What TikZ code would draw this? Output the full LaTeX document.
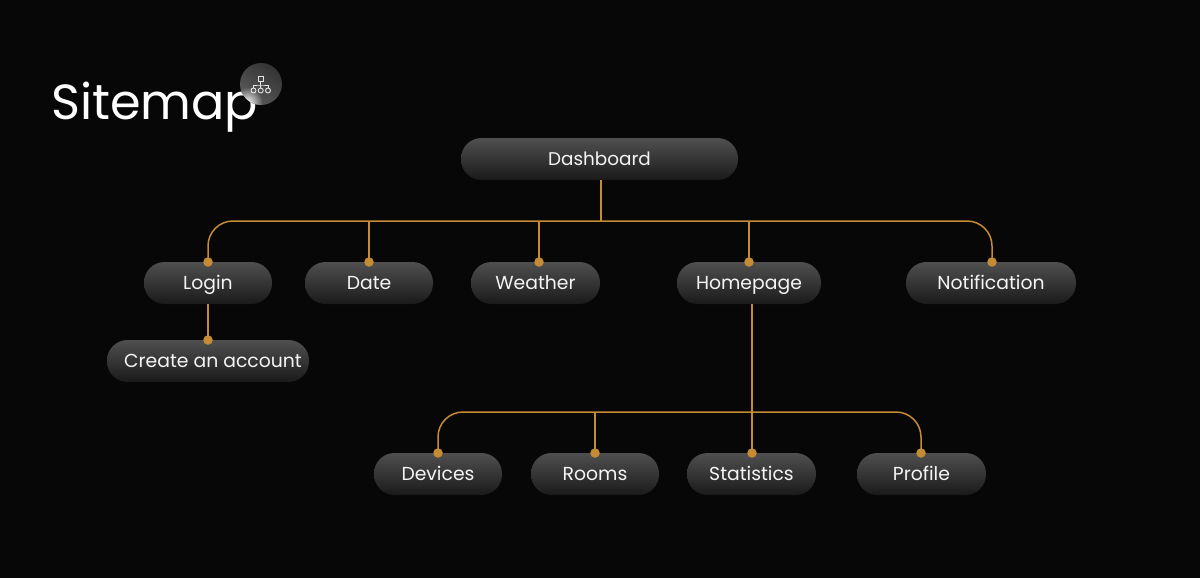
\documentclass[tikz,border=0pt]{standalone}
\usepackage{fontspec}
\setmainfont{Poppins}
\begin{document}
\begin{tikzpicture}[x=1pt,y=-1pt,
  pill/.style={rounded corners=20.5pt,minimum height=42pt,inner sep=0pt,top color=pilltop,bottom color=pillbot,middle color=pillmid,
     text=labelc,font=\fontsize{18.8}{20}\selectfont,text height=16pt,text depth=3pt},
  wire/.style={draw=wirec,line width=1.5pt},
  dotm/.style={circle,fill=wirec,draw=none,minimum size=9.5pt,inner sep=0pt},
  ico/.style={draw=icoc,line width=.9pt,fill=none}]
\definecolor{bgc}{HTML}{070707}
\definecolor{pilltop}{HTML}{4F4F4F}
\definecolor{pillmid}{HTML}{353535}
\definecolor{pillbot}{HTML}{1A1A1A}
\definecolor{labelc}{HTML}{F4F4F4}
\definecolor{wirec}{HTML}{C68B35}
\definecolor{icoc}{HTML}{E4E4E4}
\definecolor{glassa}{HTML}{5A5A5A}
\definecolor{glassb}{HTML}{343434}
\useasboundingbox (0,0) rectangle (1200,578);
\fill[bgc] (0,0) rectangle (1200,578);
% title and icon
\node[anchor=base west,inner sep=0pt,text=white,font=\fontsize{49.3}{54}\selectfont] (title) at (51,119) {Sitemap};
\node[circle,minimum size=42pt,inner sep=0pt,top color=glassb,bottom color=glassa,shading angle=-35] (badge) at (261,84) {};
\begin{scope}
  \clip (261,84) circle (21);
  \shade[inner color=white,outer color=glassa] (247,103) circle (15);
\end{scope}
\node[ico,minimum size=4.6pt,inner sep=0pt] (ir) at (260.7,79) {};
\node[ico,circle,minimum size=5pt,inner sep=0pt] (il) at (253.5,90.5) {};
\node[ico,circle,minimum size=5pt,inner sep=0pt] (im) at (260.7,90.5) {};
\node[ico,circle,minimum size=5pt,inner sep=0pt] (ix) at (268,90.5) {};
\coordinate (ib) at (260.7,85);
\draw[ico] (ir) -- (im);
\draw[ico] (il) |- (ib) -| (ix);
% pills
\node[pill,minimum width=277pt,font=\fontsize{18.4}{20}\selectfont] (dash) at (599.5,159) {Dashboard};
\node[pill,minimum width=128pt] (login) at (208,283) {Login};
\node[pill,minimum width=128pt] (date) at (369,283) {Date};
\node[pill,minimum width=129pt] (weather) at (535.5,283) {Weather};
\node[pill,minimum width=144pt] (home) at (749,283) {Homepage};
\node[pill,minimum width=170pt] (notif) at (991,283) {Notification};
\node[pill,minimum width=202pt] (create) at (208,361) {\hspace*{10pt}Create an account};
\node[pill,minimum width=128pt] (devices) at (438,474) {Devices};
\node[pill,minimum width=128pt] (rooms) at (595,474) {Rooms};
\node[pill,minimum width=129pt] (stats) at (751.5,474) {Statistics};
\node[pill,minimum width=129pt] (profile) at (921.5,474) {Profile};
% anchors
\node[dotm] (dlogin) at (208,262) {};
\node[dotm] (ddate) at (369,262) {};
\node[dotm] (dweather) at (539,262) {};
\node[dotm] (dhome) at (749,262) {};
\node[dotm] (dnotif) at (992,262) {};
\node[dotm] (dcreate) at (208,340) {};
\node[dotm] (ddevices) at (438,453) {};
\node[dotm] (drooms) at (595,453) {};
\node[dotm] (dstats) at (752,453) {};
\node[dotm] (dprofile) at (921,453) {};
\coordinate (dashout) at (601,180);
\coordinate (homeout) at (752,304);
\coordinate (bus) at (601,221);
\coordinate (subbus) at (752,412);
% connectors
\draw[wire] (dashout) -- (bus);
\draw[wire,rounded corners=25pt] (dlogin.center) |- (bus) -| (dnotif.center);
\draw[wire] (ddate.center |- bus) -- (ddate.center);
\draw[wire] (dweather.center |- bus) -- (dweather.center);
\draw[wire] (dhome.center |- bus) -- (dhome.center);
\draw[wire] (login.south) -- (dcreate.center);
\draw[wire] (homeout) -- (dstats.center);
\draw[wire,rounded corners=25pt] (ddevices.center) |- (subbus) -| (dprofile.center);
\draw[wire] (drooms.center |- subbus) -- (drooms.center);
\end{tikzpicture}
\end{document}
